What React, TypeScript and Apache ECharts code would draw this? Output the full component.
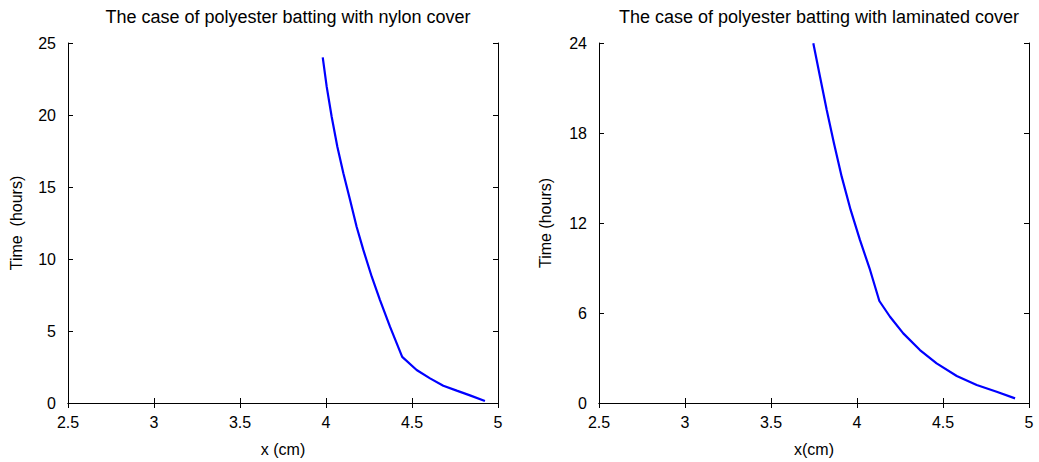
import React, { useEffect, useRef } from "react";
import * as echarts from "echarts";

const titles = [
  "The case of polyester batting with nylon cover",
  "The case of polyester batting with laminated cover",
];
const xNames = ["x (cm)", "x(cm)"];
const yNames = ["Time  (hours)", "Time (hours)"];

// Left panel: nylon cover
const xNylon = [3.981, 4.004, 4.033, 4.066, 4.101, 4.14, 4.178, 4.217, 4.266, 4.314, 4.372, 4.443, 4.527, 4.605, 4.682, 4.76, 4.837, 4.924];
const tNylon = [24.0, 21.97, 19.88, 17.8, 15.95, 14.1, 12.24, 10.63, 8.77, 7.15, 5.3, 3.2, 2.29, 1.71, 1.2, 0.86, 0.53, 0.14];

// Right panel: laminated cover
const xLam = [3.746, 3.785, 3.824, 3.866, 3.911, 3.963, 4.017, 4.076, 4.13, 4.192, 4.269, 4.366, 4.463, 4.58, 4.696, 4.812, 4.919];
const tLam = [23.98, 21.75, 19.53, 17.31, 15.09, 12.87, 10.87, 8.87, 6.8, 5.75, 4.64, 3.53, 2.64, 1.8, 1.2, 0.75, 0.31];

const xMin = 2.5;
const xMax = 5;
const xStep = 0.5;
const yMaxes = [25, 24];
const ySteps = [5, 6];

const FONT = "Liberation Sans, Arial, Helvetica, sans-serif";
const INK = "#000";

export default function App() {
  const ref = useRef<HTMLDivElement>(null);

  useEffect(() => {
    if (!ref.current) return;
    const chart = echarts.init(ref.current, undefined, { renderer: "svg" });

    const grids = [
      { left: 68, top: 43, width: 430, height: 360 },
      { left: 599, top: 43, width: 430, height: 360 },
    ];

    const axisLine = { show: true, lineStyle: { color: INK, width: 1 } };
    const tick = { show: true, inside: true, length: 5, lineStyle: { color: INK, width: 1 } };

    const xAxes: any[] = [];
    const yAxes: any[] = [];
    [0, 1].forEach((g) => {
      xAxes.push({
        type: "value",
        gridIndex: g,
        position: "bottom",
        min: xMin,
        max: xMax,
        interval: xStep,
        name: xNames[g],
        nameLocation: "middle",
        nameGap: 38,
        nameTextStyle: { fontFamily: FONT, fontSize: 16, color: INK },
        axisLine,
        axisTick: tick,
        splitLine: { show: false },
        axisLabel: { fontFamily: FONT, fontSize: 16, color: INK, margin: 11 },
      });
      yAxes.push({
        type: "value",
        gridIndex: g,
        position: "left",
        min: 0,
        max: yMaxes[g],
        interval: ySteps[g],
        name: yNames[g],
        nameLocation: "middle",
        nameGap: g === 0 ? 44 : 46,
        nameTextStyle: { fontFamily: FONT, fontSize: 16, color: INK },
        axisLine,
        axisTick: tick,
        splitLine: { show: false },
        axisLabel: { fontFamily: FONT, fontSize: 16, color: INK, margin: 12 },
      });
    });
    [0, 1].forEach((g) => {
      xAxes.push({
        type: "value",
        gridIndex: g,
        position: "top",
        min: xMin,
        max: xMax,
        interval: xStep,
        axisLine,
        axisTick: tick,
        axisLabel: { show: false },
        splitLine: { show: false },
      });
      yAxes.push({
        type: "value",
        gridIndex: g,
        position: "right",
        min: 0,
        max: yMaxes[g],
        interval: ySteps[g],
        axisLine,
        axisTick: tick,
        axisLabel: { show: false },
        splitLine: { show: false },
      });
    });

    const mk = (xs: number[], ys: number[]) => xs.map((x, i) => [x, ys[i]]);

    const titleStyle = { fontFamily: FONT, fontSize: 18, fontWeight: "normal", color: INK };

    chart.setOption({
      animation: false,
      backgroundColor: "#fff",
      title: [
        { text: titles[0], left: 68 + 215, textAlign: "center", top: 3, textStyle: titleStyle },
        { text: titles[1], left: 599 + 215, textAlign: "center", top: 3, textStyle: titleStyle },
      ],
      grid: grids,
      xAxis: xAxes,
      yAxis: yAxes,
      series: [
        {
          type: "line",
          xAxisIndex: 0,
          yAxisIndex: 0,
          data: mk(xNylon, tNylon),
          showSymbol: false,
          lineStyle: { color: "#0000ff", width: 2.2 },
          itemStyle: { color: "#0000ff" },
        },
        {
          type: "line",
          xAxisIndex: 1,
          yAxisIndex: 1,
          data: mk(xLam, tLam),
          showSymbol: false,
          lineStyle: { color: "#0000ff", width: 2.2 },
          itemStyle: { color: "#0000ff" },
        },
      ],
    });

    return () => chart.dispose();
  }, []);

  return <div ref={ref} style={{ width: 1039, height: 462, position: "absolute", left: 0, top: 0 }} />;
}
